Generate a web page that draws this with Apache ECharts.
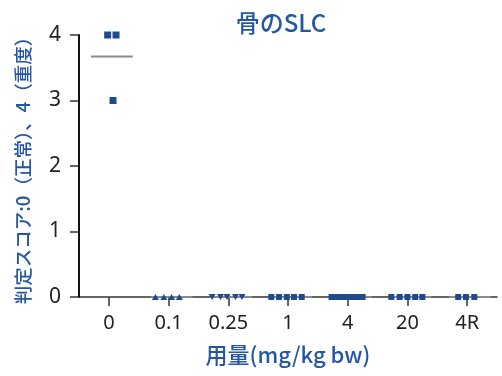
<!DOCTYPE html>
<html><head><meta charset="utf-8">
<script src="https://cdn.jsdelivr.net/npm/echarts@6/dist/echarts.min.js"></script>
<style>html,body{margin:0;padding:0;background:#fff}#c{width:502px;height:376px}</style>
</head><body><div id="c"></div>
<script>
var categories = ['0', '0.1', '0.25', '1', '4', '20', '4R'];
var yTicks = [0, 1, 2, 3, 4];
var scores0 = [4, 4, 3];
var scores01 = [0, 0, 0, 0];
var scores025 = [0, 0, 0, 0, 0];
var scores1 = [0, 0, 0, 0, 0];
var scores4 = [0, 0, 0, 0, 0, 0, 0, 0];
var scores20 = [0, 0, 0, 0, 0];
var scores4R = [0, 0, 0];
var jitter0 = [-0.02, 0.12, 0.07];
var jitter01 = [-0.22, -0.08, 0.05, 0.18];
var jitter025 = [-0.27, -0.13, -0.02, 0.12, 0.23];
var jitter1 = [-0.28, -0.15, -0.02, 0.1, 0.23];
var jitter4 = [-0.27, -0.18, -0.08, -0.02, 0.05, 0.12, 0.18, 0.25];
var jitter20 = [-0.27, -0.13, 0, 0.13, 0.25];
var jitter4R = [-0.15, -0.02, 0.12];
var groupMeans = [3.67, 0, 0, 0, 0, 0, 0];

var allScores = [scores0, scores01, scores025, scores1, scores4, scores20, scores4R];
var allJitter = [jitter0, jitter01, jitter025, jitter1, jitter4, jitter20, jitter4R];
var symbols = ['rect', 'triangle', 'triangle', 'rect', 'rect', 'rect', 'rect'];
var rotates = [0, 0, 180, 0, 0, 0, 0];
var sizes = [[7, 7], [7, 6], [7, 6], [6, 6], [6, 6], [6, 6], [6, 6]];
var markColor = '#1f4a8f';
var blue = '#2456a4';

// hidden value axis spans [0, n]; category i is centred at i + 0.5
var series = [];
// y-axis spine drawn through the library's own scales
series.push({
  type: 'line', xAxisIndex: 0, yAxisIndex: 0, showSymbol: false, silent: true, clip: false,
  lineStyle: { color: '#111', width: 2 }, z: 20,
  data: [[0, yTicks[0]], [0, yTicks[yTicks.length - 1]]]
});
categories.forEach(function (c, i) {
  series.push({
    type: 'line', xAxisIndex: 0, yAxisIndex: 0, showSymbol: false, silent: true,
    lineStyle: { color: '#8a8a8a', width: 2 }, z: 1,
    data: [[i + 0.2, groupMeans[i]], [i + 0.9, groupMeans[i]]]
  });
});
categories.forEach(function (c, i) {
  series.push({
    type: 'scatter', xAxisIndex: 0, yAxisIndex: 0, clip: false, z: 5,
    symbol: symbols[i], symbolRotate: rotates[i], symbolSize: sizes[i],
    itemStyle: { color: markColor, opacity: 1 },
    data: allScores[i].map(function (v, k) { return [i + 0.5 + allJitter[i][k], v]; })
  });
});

var chart = echarts.init(document.getElementById('c'), null, { renderer: 'canvas' });
chart.setOption({
  animation: false,
  title: {
    text: '骨のSLC', left: 276, top: 6, textAlign: 'center',
    textStyle: { color: blue, fontSize: 24, fontWeight: 500, fontFamily: 'Noto Sans CJK JP' }
  },
  grid: { left: 79, right: 5, top: 35, bottom: 79, containLabel: false },
  xAxis: [
    {
      type: 'value', min: 0, max: categories.length, interval: 1,
      axisLine: { show: false }, axisTick: { show: false }, axisLabel: { show: false },
      splitLine: { show: false }
    },
    {
      type: 'category', data: categories, boundaryGap: true, position: 'bottom',
      axisLine: { show: true, onZero: false, lineStyle: { color: '#333', width: 1.5 } },
      axisTick: { show: true, alignWithLabel: true, length: 9, lineStyle: { color: '#333', width: 1.5 } },
      axisLabel: { color: '#222', fontSize: 20, margin: 16, fontFamily: 'Noto Sans' },
      name: '用量(mg/kg bw)', nameLocation: 'middle', nameGap: 47,
      nameTextStyle: { color: blue, fontSize: 22, fontWeight: 500, fontFamily: 'Noto Sans CJK JP' }
    }
  ],
  yAxis: [{
    type: 'value', min: yTicks[0], max: yTicks[yTicks.length - 1], interval: 1,
    axisLine: { show: true, onZero: false, lineStyle: { color: '#111', width: 2 } },
    axisTick: { show: true, length: 9, lineStyle: { color: '#333', width: 1.5 } },
    splitLine: { show: false },
    axisLabel: { color: '#222', fontSize: 21, margin: 18, fontFamily: 'Noto Sans' },
    name: '判定スコア:0（正常）、4（重度）', nameLocation: 'middle', nameGap: 47,
    nameTextStyle: { color: blue, fontSize: 18.5, fontWeight: 500, fontFamily: 'Noto Sans CJK JP' }
  }],
  series: series
});
</script></body></html>
